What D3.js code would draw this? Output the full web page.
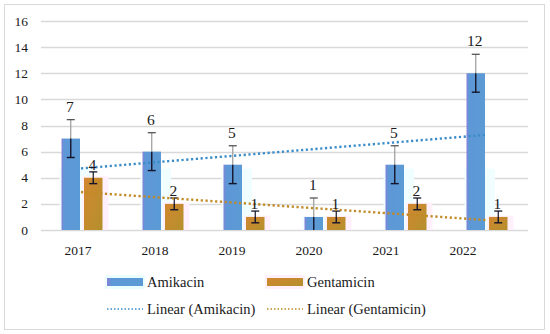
<!DOCTYPE html>
<html>
<head>
<meta charset="utf-8">
<script src="https://cdn.jsdelivr.net/npm/d3@7"></script>
</head>
<body style="margin:0; background:#fff">
<script>
// data
var years = ["2017", "2018", "2019", "2020", "2021", "2022"];
var amikacin = [7, 6, 5, 1, 5, 12];
var gentamicin = [4, 2, 1, 1, 2, 1];
var amikacinErr = [1.45, 1.45, 1.45, 1.45, 1.45, 1.45];
var gentamicinErr = [0.45, 0.45, 0.45, 0.45, 0.45, 0.45];
var yTicks = [0, 2, 4, 6, 8, 10, 12, 14, 16];
var seriesNames = ["Amikacin", "Gentamicin"];

var width = 550, height = 334;
var serif = "Liberation Serif";

var svg = d3.select("body").append("svg")
    .attr("width", width)
    .attr("height", height);

var defs = svg.append("defs");
var gA = defs.append("linearGradient").attr("id", "gradA");
gA.append("stop").attr("offset", "0%").attr("stop-color", "#8a7fd8");
gA.append("stop").attr("offset", "12%").attr("stop-color", "#5e97d7");
gA.append("stop").attr("offset", "100%").attr("stop-color", "#5b9bd5");
var gG = defs.append("linearGradient").attr("id", "gradG")
    .attr("x1", "0%").attr("y1", "0%").attr("x2", "100%").attr("y2", "100%");
gG.append("stop").attr("offset", "0%").attr("stop-color", "#d2872f");
gG.append("stop").attr("offset", "100%").attr("stop-color", "#b4902c");

// outer frame
svg.append("rect")
    .attr("x", 4.5).attr("y", 4.5)
    .attr("width", 540).attr("height", 325)
    .style("fill", "none")
    .style("stroke", "#d9d9d9");

var x = d3.scaleBand().domain(years).range([41.5, 527.5]).padding(0);
var xInner = d3.scaleBand().domain(seriesNames).range([0, x.bandwidth()])
    .paddingInner(0.178).paddingOuter(0.889);
var xLabel = d3.scalePoint().domain(years).range([78, 463]);
var y = d3.scaleLinear().domain([0, 16]).range([230, 21]);

// gridlines
svg.append("g").selectAll("line")
    .data(yTicks)
    .enter().append("line")
    .attr("x1", 41).attr("x2", 528)
    .attr("y1", function(d) { return Math.round(y(d)) + 0.5; })
    .attr("y2", function(d) { return Math.round(y(d)) + 0.5; })
    .style("stroke", "#d9d9d9")
    .style("stroke-width", 1.3);

svg.append("g").selectAll("text")
    .data(yTicks)
    .enter().append("text")
    .attr("x", 28)
    .attr("y", function(d) { return y(d) + 4.5; })
    .attr("text-anchor", "end")
    .attr("font-family", serif)
    .attr("font-size", 13.5)
    .attr("fill", "#1a1a1a")
    .text(function(d) { return d; });

svg.append("g").selectAll("text")
    .data(years)
    .enter().append("text")
    .attr("x", function(d) { return xLabel(d); })
    .attr("y", 255)
    .attr("text-anchor", "middle")
    .attr("font-family", serif)
    .attr("font-size", 13.5)
    .attr("fill", "#1a1a1a")
    .text(function(d) { return d; });

// faint halos behind bars
var bw = xInner.bandwidth();
svg.append("g").selectAll("rect")
    .data(years)
    .enter().append("rect")
    .attr("x", function(d) { return x(d) + xInner("Amikacin") - 2; })
    .attr("width", bw + 12)
    .attr("y", function(d, i) { return y(Math.min(4.7, amikacin[i])); })
    .attr("height", function(d, i) { return y(0) - y(Math.min(4.7, amikacin[i])); })
    .style("fill", "#f0feff");
svg.append("g").selectAll("rect")
    .data(years)
    .enter().append("rect")
    .attr("x", function(d) { return x(d) + xInner("Gentamicin") - 2; })
    .attr("width", bw + 8)
    .attr("y", function(d, i) { return y(gentamicin[i] + 0.1); })
    .attr("height", function(d, i) { return y(0) - y(gentamicin[i] + 0.1); })
    .style("fill", "#fff0fb");

// bars
svg.append("g").selectAll("rect")
    .data(amikacin)
    .enter().append("rect")
    .attr("x", function(d, i) { return x(years[i]) + xInner("Amikacin"); })
    .attr("width", bw)
    .attr("y", function(d) { return y(d); })
    .attr("height", function(d) { return y(0) - y(d); })
    .style("fill", "url(#gradA)");
svg.append("g").selectAll("rect")
    .data(gentamicin)
    .enter().append("rect")
    .attr("x", function(d, i) { return x(years[i]) + xInner("Gentamicin"); })
    .attr("width", bw)
    .attr("y", function(d) { return y(d); })
    .attr("height", function(d) { return y(0) - y(d); })
    .style("fill", "url(#gradG)");

// error bars
function errorBars(values, errs, name, upperColor) {
    var g = svg.append("g");
    values.forEach(function(v, i) {
        var cx = x(years[i]) + xInner(name) + bw / 2;
        var top = y(v + errs[i]), bot = y(Math.max(0, v - errs[i])), mid = y(v);
        g.append("line").attr("x1", cx).attr("x2", cx).attr("y1", top).attr("y2", mid)
            .style("stroke", upperColor).style("stroke-width", 1.2);
        g.append("line").attr("x1", cx).attr("x2", cx).attr("y1", mid).attr("y2", bot)
            .style("stroke", "#15152a").style("stroke-width", 1.4);
        g.append("line").attr("x1", cx - 4).attr("x2", cx + 4).attr("y1", top).attr("y2", top)
            .style("stroke", upperColor == "#15152a" ? "#15152a" : "#555").style("stroke-width", 1.3);
        if (v - errs[i] > 0) {
            g.append("line").attr("x1", cx - 4).attr("x2", cx + 4).attr("y1", bot).attr("y2", bot)
                .style("stroke", "#15152a").style("stroke-width", 1.4);
        }
    });
}
errorBars(amikacin, amikacinErr, "Amikacin", "#9a9a9a");
errorBars(gentamicin, gentamicinErr, "Gentamicin", "#15152a");

// trend lines (least squares, like Excel's linear trendline)
function trend(values) {
    var n = values.length, mx = (n + 1) / 2, my = d3.mean(values);
    var sxy = 0, sxx = 0;
    values.forEach(function(v, i) { sxy += (i + 1 - mx) * (v - my); sxx += (i + 1 - mx) * (i + 1 - mx); });
    var b = sxy / sxx, a = my - b * mx;
    return [[years[0], a + b], [years[n - 1], a + b * n]];
}
var line = d3.line()
    .x(function(d) { return x(d[0]) + x.bandwidth() / 2 - 1; })
    .y(function(d) { return y(d[1]); });
svg.append("path").attr("d", line(trend(amikacin)))
    .style("fill", "none").style("stroke", "#3a8cc8").style("stroke-width", 2.4)
    .style("stroke-dasharray", "2.2 2.6");
svg.append("path").attr("d", line(trend(gentamicin)))
    .style("fill", "none").style("stroke", "#c08a25").style("stroke-width", 2.4)
    .style("stroke-dasharray", "2.2 2.6");

// value labels
svg.append("g").selectAll("text")
    .data(amikacin)
    .enter().append("text")
    .attr("x", function(d, i) { return x(years[i]) + xInner("Amikacin") + bw / 2 - 1; })
    .attr("y", function(d, i) { return y(d + amikacinErr[i]) - 8; })
    .attr("text-anchor", "middle")
    .attr("font-family", serif)
    .attr("font-size", 15.5)
    .attr("fill", "#1a1a1a")
    .text(function(d) { return d; });
svg.append("g").selectAll("text")
    .data(gentamicin)
    .enter().append("text")
    .attr("x", function(d, i) { return x(years[i]) + xInner("Gentamicin") + bw / 2 - 1; })
    .attr("y", function(d, i) { return y(d + gentamicinErr[i]) - 2; })
    .attr("text-anchor", "middle")
    .attr("font-family", serif)
    .attr("font-size", 15.5)
    .attr("fill", "#1a1a1a")
    .text(function(d) { return d; });

// legend
var legend = [
    {label: "Amikacin", kind: "bar", fill: "url(#gradA)", halo: "#eafdff", lx: 107, ly: 282},
    {label: "Gentamicin", kind: "bar", fill: "url(#gradG)", halo: "#fff0fb", lx: 267, ly: 282},
    {label: "Linear (Amikacin)", kind: "line", color: "#3a8cc8", lx: 107, ly: 309},
    {label: "Linear (Gentamicin)", kind: "line", color: "#c08a25", lx: 267, ly: 309}
];
var lg = svg.append("g").selectAll("g")
    .data(legend)
    .enter().append("g")
    .attr("transform", function(d) { return "translate(" + d.lx + "," + d.ly + ")"; });
lg.filter(function(d) { return d.kind == "bar"; }).append("rect")
    .attr("x", -2).attr("y", -7).attr("width", 40).attr("height", 14)
    .style("fill", function(d) { return d.halo; });
lg.filter(function(d) { return d.kind == "bar"; }).append("rect")
    .attr("x", 0).attr("y", -4).attr("width", 36).attr("height", 8)
    .style("fill", function(d) { return d.fill; });
lg.filter(function(d) { return d.kind == "line"; }).append("line")
    .attr("x1", 0).attr("x2", 36).attr("y1", 0).attr("y2", 0)
    .style("stroke", function(d) { return d.color; })
    .style("stroke-width", 1.4)
    .style("stroke-dasharray", "1.5 2");
lg.append("text")
    .attr("x", 40).attr("y", 5)
    .attr("font-family", serif)
    .attr("font-size", 14.5)
    .attr("fill", "#1a1a1a")
    .text(function(d) { return d.label; });
</script>
</body>
</html>
